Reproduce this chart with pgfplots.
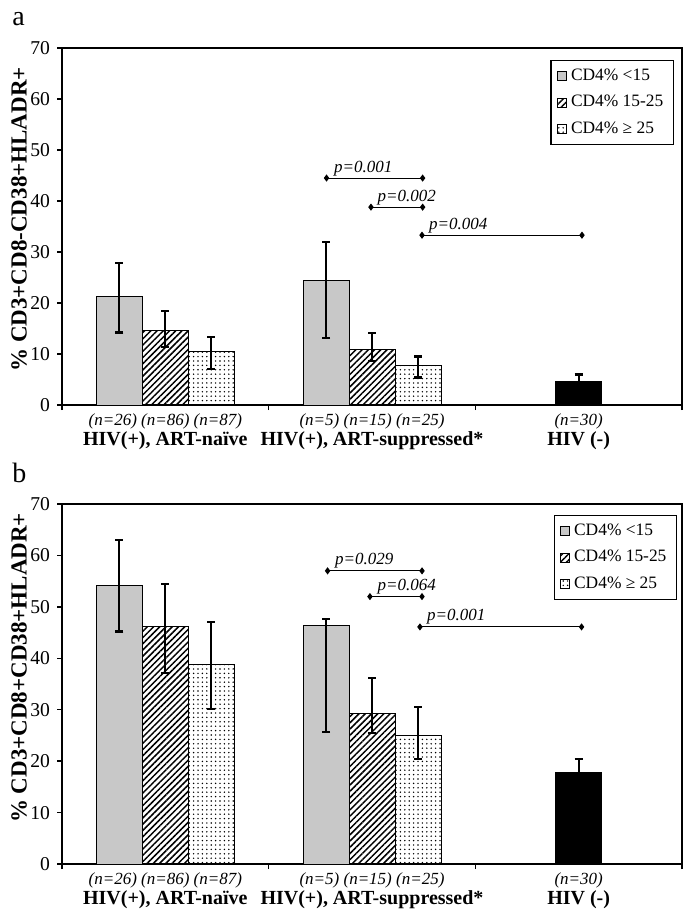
\documentclass[border=0pt]{standalone}
\usepackage{fontspec}
\setmainfont{Liberation Serif}
\usepackage{pgfplots}
\pgfplotsset{compat=1.18}
\usetikzlibrary{patterns,patterns.meta}

\definecolor{bargray}{RGB}{200,200,200}

\tikzset{ptext/.style={anchor=south west, inner sep=0.5pt,
    font=\itshape\fontsize{8.5}{10}\selectfont}}

\pgfplotsset{
  panel/.style={
    scale only axis, width=310pt,
    xmin=-0.5, xmax=2.5, ymin=0, ymax=70,
    ytick={0,10,...,70},
    xtick={-0.5,0.5,1.5,2.5}, xticklabels={\empty,\empty,\empty,\empty},
    extra x ticks={0,1,2},
    extra x tick style={major tick length=0pt,
      xticklabel style={align=center, yshift=-1pt}},
    tick pos=left, tick align=outside, major tick length=2.5pt,
    axis line style={line width=0.7pt},
    every tick/.style={black, line width=0.7pt},
    tick label style={font=\fontsize{9.8}{11}\selectfont},
    /pgf/number format/assume math mode=true,
    legend cell align=left,
    legend style={draw=black, line width=0.6pt, fill=white,
      font=\fontsize{8.7}{10}\selectfont, row sep=2pt,
      inner xsep=3pt, inner ysep=2pt, anchor=north east},
  },
  sq/.style={legend image code/.code={
    \draw[##1,/tikz/.cd,line width=0.4pt] (0pt,-2.3pt) rectangle (4.6pt,2.3pt);}},
  bars/.style={
    error bars/y dir=both, error bars/y explicit,
    error bars/error bar style={line width=1.1pt, black, xshift=#1},
    error bars/error mark options={line width=1.1pt, mark size=2pt, black, rotate=90},
    ybar, bar width=23pt, draw=black, line width=0.5pt, sq,
    bar shift=#1},
  s1/.style={fill=bargray},
  s2/.style={pattern={Lines[angle=45,distance=2.2pt,line width=0.75pt]}},
  s3/.style={pattern={Dots[distance=2.2pt,radius=0.4pt]}},
  pline/.style={black, line width=0.5pt, mark=diamond*, mark size=1.4pt, forget plot},
}

\begin{document}
\begin{tikzpicture}
\useasboundingbox (0,0) rectangle (344pt,-455.5pt);

\node[anchor=base west, font=\fontsize{14}{16}\selectfont, inner sep=0pt] at (6pt,-12.5pt) {a};

\begin{axis}[panel, height=178.5pt, at={(31pt,-202.5pt)}, anchor=south west,
  extra x tick labels={
    {\fontsize{8.5}{10}\selectfont\itshape (n=26) (n=86) (n=87)\\[-1pt]\fontsize{10}{12}\selectfont\bfseries HIV(+), ART-naïve},
    {\fontsize{8.5}{10}\selectfont\itshape (n=5) (n=15) (n=25)\\[-1pt]\fontsize{10}{12}\selectfont\bfseries HIV(+), ART-suppressed*},
    {\fontsize{8.5}{10}\selectfont\itshape (n=30)\\[-1pt]\fontsize{10}{12}\selectfont\bfseries HIV (-)}},
  ylabel={\% CD3+CD8-CD38+HLADR+},
  ylabel style={at={(axis description cs:-0.069,0.52)}, anchor=center,
    font=\bfseries\fontsize{11.5}{13}\selectfont},
  legend style={at={(axis description cs:0.987,0.966)}},
]
\addplot[bars=-23pt, s1] coordinates {(0,21.3) += (0,6.6) -= (0,7.1) (1,24.5) += (0,7.5) -= (0,11.3)};
\addlegendentry{CD4\% <15}
\addplot[bars=0pt, s2] coordinates {(0,14.6) += (0,3.8) -= (0,3.2) (1,10.8) += (0,3.3) -= (0,2.2)};
\addlegendentry{CD4\% 15-25}
\addplot[bars=23pt, s3] coordinates {(0,10.5) += (0,2.8) -= (0,3.4) (1,7.7) += (0,1.8) -= (0,2.3)};
\addlegendentry{CD4\% ≥ 25}
\addplot[bars=0pt, fill=black, forget plot] coordinates {(2,4.6) += (0,1.4) -= (0,1.4)};

\addplot[pline] coordinates {(0.78,44.5) (1.245,44.5)};
\addplot[pline] coordinates {(0.995,38.8) (1.245,38.8)};
\addplot[pline] coordinates {(1.242,33.3) (2.016,33.3)};
\node[ptext] at (axis cs:0.81,44.7) {p=0.001};
\node[ptext] at (axis cs:1.02,39.0) {p=0.002};
\node[ptext] at (axis cs:1.27,33.5) {p=0.004};
\end{axis}

\node[anchor=base west, font=\fontsize{14}{16}\selectfont, inner sep=0pt] at (6pt,-241pt) {b};

\begin{axis}[panel, height=180pt, at={(31pt,-432pt)}, anchor=south west,
  extra x tick labels={
    {\fontsize{8.5}{10}\selectfont\itshape (n=26) (n=86) (n=87)\\[-1pt]\fontsize{10}{12}\selectfont\bfseries HIV(+), ART-naïve},
    {\fontsize{8.5}{10}\selectfont\itshape (n=5) (n=15) (n=25)\\[-1pt]\fontsize{10}{12}\selectfont\bfseries HIV(+), ART-suppressed*},
    {\fontsize{8.5}{10}\selectfont\itshape (n=30)\\[-1pt]\fontsize{10}{12}\selectfont\bfseries HIV (-)}},
  ylabel={\% CD3+CD8+CD38+HLADR+},
  ylabel style={at={(axis description cs:-0.069,0.545)}, anchor=center,
    font=\bfseries\fontsize{11.5}{13}\selectfont},
  legend style={at={(axis description cs:0.992,0.969)}},
]
\addplot[bars=-23pt, s1] coordinates {(0,54.1) += (0,8.9) -= (0,8.9) (1,46.4) += (0,1.3) -= (0,20.7)};
\addlegendentry{CD4\% <15}
\addplot[bars=0pt, s2] coordinates {(0,46.1) += (0,8.4) -= (0,8.9) (1,29.3) += (0,6.9) -= (0,3.9)};
\addlegendentry{CD4\% 15-25}
\addplot[bars=23pt, s3] coordinates {(0,38.8) += (0,8.3) -= (0,8.7) (1,25.0) += (0,5.5) -= (0,4.6)};
\addlegendentry{CD4\% ≥ 25}
\addplot[bars=0pt, fill=black, forget plot] coordinates {(2,17.8) += (0,2.6) -= (0,2.6)};

\addplot[pline] coordinates {(0.785,57.0) (1.242,57.0)};
\addplot[pline] coordinates {(0.99,52.0) (1.242,52.0)};
\addplot[pline] coordinates {(1.232,46.1) (2.014,46.1)};
\node[ptext] at (axis cs:0.815,57.2) {p=0.029};
\node[ptext] at (axis cs:1.02,52.2) {p=0.064};
\node[ptext] at (axis cs:1.26,46.3) {p=0.001};
\end{axis}
\end{tikzpicture}
\end{document}
